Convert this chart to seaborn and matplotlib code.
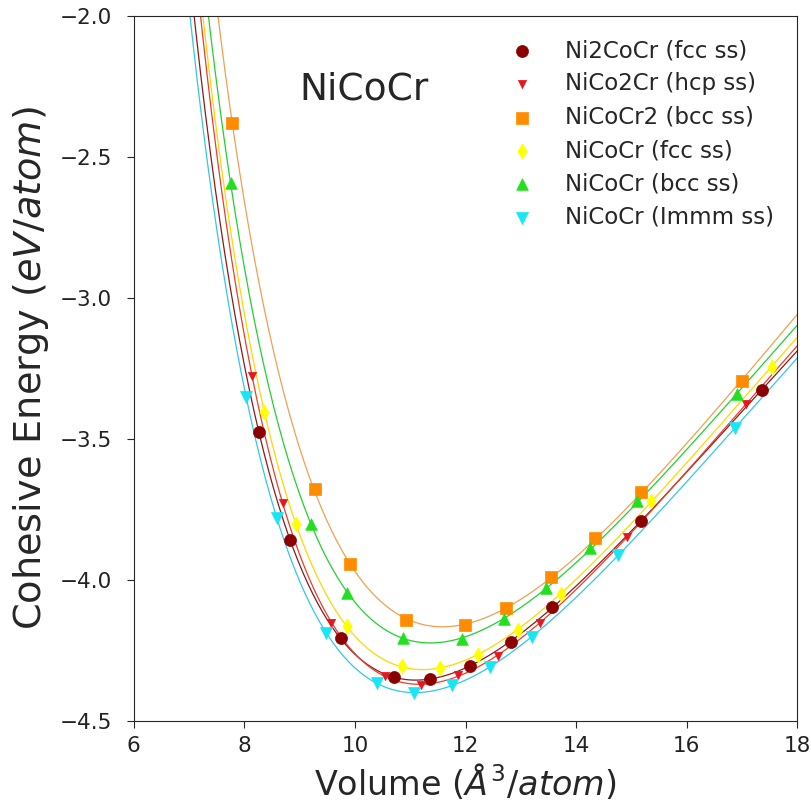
import matplotlib
matplotlib.use("Agg")
import matplotlib.pyplot as plt
import numpy as np
import pandas as pd
import seaborn as sns

# volumes (A^3/atom) and cohesive energies (eV/atom)
labels = ["Ni2CoCr (fcc ss)", "NiCo2Cr (hcp ss)", "NiCoCr2 (bcc ss)",
          "NiCoCr (fcc ss)", "NiCoCr (bcc ss)", "NiCoCr (Immm ss)"]

v_ni2cocr = [8.26, 8.83, 9.74, 10.71, 11.36, 12.09, 12.82, 13.56, 15.17, 17.36]
e_ni2cocr = [-3.474, -3.86, -4.207, -4.345, -4.35, -4.307, -4.219, -4.097, -3.79, -3.326]

v_nico2cr = [8.14, 8.69, 9.57, 10.55, 11.19, 11.87, 12.58, 13.34, 14.93, 17.07]
e_nico2cr = [-3.277, -3.726, -4.151, -4.34, -4.372, -4.337, -4.27, -4.154, -3.846, -3.377]

v_nicocr2 = [7.78, 9.27, 9.91, 10.92, 11.99, 12.74, 13.55, 14.35, 15.18, 17.0]
e_nicocr2 = [-2.38, -3.678, -3.944, -4.142, -4.16, -4.10, -3.99, -3.852, -3.687, -3.294]

v_fcc = [8.36, 8.93, 9.85, 10.85, 11.54, 12.22, 12.95, 13.72, 15.35, 17.54]
e_fcc = [-3.403, -3.80, -4.163, -4.307, -4.313, -4.266, -4.177, -4.05, -3.72, -3.244]

v_bcc = [7.75, 9.21, 9.86, 10.87, 11.93, 12.69, 13.46, 14.26, 15.11, 16.91]
e_bcc = [-2.593, -3.80, -4.045, -4.207, -4.21, -4.139, -4.03, -3.888, -3.72, -3.342]

v_immm = [8.03, 8.59, 9.47, 10.40, 11.07, 11.75, 12.45, 13.2, 14.76, 16.88]
e_immm = [-3.35, -3.78, -4.187, -4.366, -4.40, -4.372, -4.31, -4.203, -3.911, -3.46]

volumes = [v_ni2cocr, v_nico2cr, v_nicocr2, v_fcc, v_bcc, v_immm]
energies = [e_ni2cocr, e_nico2cr, e_nicocr2, e_fcc, e_bcc, e_immm]

marker_colors = ["darkred", "#e8141e", "darkorange", "yellow", "#22e01e", "#19e6f5"]
line_colors = ["#8b1a1a", "#e8402a", "#f0a050", "gold", "#22d030", "#30c8e8"]
markers = ["o", "v", "s", "d", "^", "v"]
sizes = [75, 35, 80, 60, 70, 75]

sns.set_style("ticks")
plt.rcParams["font.family"] = ["DejaVu Sans"]

fig, ax = plt.subplots(figsize=(8.11, 8.10), dpi=100)
fig.subplots_adjust(left=0.165, right=0.983, bottom=0.110, top=0.980)

vgrid = np.linspace(6.8, 18.5, 400)
for i in range(len(labels)):
    v = np.array(volumes[i])
    e = np.array(energies[i])
    # 3rd order Birch-Murnaghan: E is a cubic in V^(-2/3)
    coef = np.polyfit(v ** (-2.0 / 3.0), e, 3)
    efit = np.polyval(coef, vgrid ** (-2.0 / 3.0))
    fit = pd.DataFrame({"V": vgrid, "E": efit})
    sns.lineplot(data=fit, x="V", y="E", ax=ax, color=line_colors[i],
                 linewidth=0.9, sort=False)

for i in range(len(labels)):
    df = pd.DataFrame({"V": volumes[i], "E": energies[i]})
    sns.scatterplot(data=df, x="V", y="E", ax=ax, color=marker_colors[i],
                    marker=markers[i], s=sizes[i], edgecolor=marker_colors[i],
                    linewidth=0.5, label=labels[i], zorder=3)

ax.set_xlim(6, 18)
ax.set_ylim(-4.5, -2.0)
ax.set_xticks([6, 8, 10, 12, 14, 16, 18])
ax.set_yticks([-4.5, -4.0, -3.5, -3.0, -2.5, -2.0])
ax.tick_params(labelsize=15.5, direction="out", length=5, labelcolor="#222222")
ax.tick_params(axis="y", pad=11)
ax.tick_params(axis="x", pad=6)
ax.set_xlabel(r"Volume ($\AA^3/atom$)", fontsize=24)
ax.set_ylabel(r"Cohesive Energy ($eV/atom$)", fontsize=27.5, labelpad=6)
ax.text(9.0, -2.26, "NiCoCr", fontsize=27, va="center", ha="left")

ax.legend(loc="upper right", frameon=False, fontsize=16.5, scatterpoints=1,
          handletextpad=0.9, labelspacing=0.45, borderaxespad=0.6)

fig.savefig("out.png", dpi=100)
